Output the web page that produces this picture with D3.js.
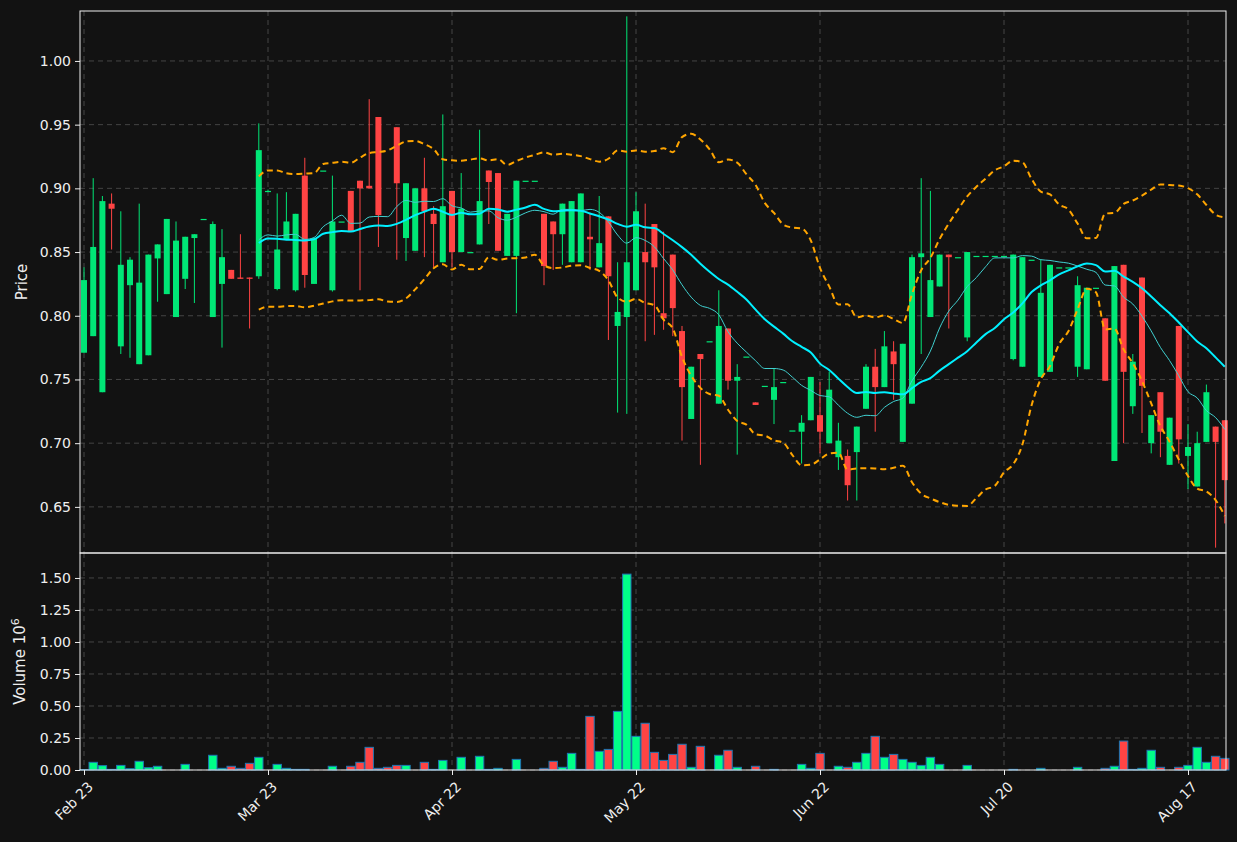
<!DOCTYPE html>
<html>
<head>
<meta charset="utf-8">
<script src="https://cdn.jsdelivr.net/npm/d3@7"></script>
<style>
  body { margin: 0; background: #121212; }
  svg { display: block; font-family: "DejaVu Sans", sans-serif; }
</style>
</head>
<body>
<div id="chart"></div>
<script>
// OHLC per trading day (null = no candle)
const opens = [0.771,0.784,0.740,0.888,0.776,0.824,0.762,0.769,0.845,0.817,
  0.799,0.829,0.861,0.876,0.799,0.825,0.836,0.830,0.830,0.831,
  0.898,0.821,0.860,0.820,0.910,0.825,0.914,0.820,0.874,0.898,
  0.906,0.902,0.956,null,0.948,0.861,0.851,0.900,0.880,0.842,
  0.898,0.850,0.850,0.856,0.914,0.912,0.847,0.847,0.906,0.906,
  0.880,0.874,0.864,0.842,0.842,0.862,0.838,0.878,0.792,0.799,
  0.820,0.850,0.872,0.802,0.848,0.788,0.719,0.770,0.780,0.731,
  0.790,0.749,0.768,0.732,0.745,0.734,0.748,0.710,0.709,0.718,
  0.722,0.700,0.689,0.690,0.693,0.727,0.760,0.744,0.772,0.701,
  0.731,0.846,0.799,0.823,0.848,0.846,0.783,0.847,0.847,0.847,
  0.847,0.766,0.760,0.844,0.752,0.756,0.838,0.838,0.760,0.758,
  0.822,0.798,0.686,0.840,0.729,0.830,0.700,0.740,0.683,0.792,
  0.690,0.666,0.701,0.713,0.718];
const highs = [0.838,0.908,0.894,0.896,0.882,0.846,0.888,0.848,0.856,0.876,
  0.874,0.862,0.864,0.876,0.874,0.868,0.836,0.864,0.830,0.951,
  0.899,0.896,0.897,0.880,0.924,0.861,0.914,0.910,0.874,0.898,
  0.906,0.970,0.956,null,0.948,0.904,0.900,0.924,0.886,0.958,
  0.898,0.912,0.850,0.946,0.914,0.912,0.880,0.906,0.906,0.906,
  0.880,0.874,0.888,0.890,0.896,0.880,0.894,0.878,0.842,1.035,
  0.897,0.888,0.872,0.866,0.848,0.792,0.760,0.770,0.780,0.820,
  0.790,0.762,0.768,0.732,0.745,0.759,0.748,0.710,0.722,0.752,
  0.748,0.756,0.716,0.695,0.713,0.762,0.774,0.788,0.780,0.778,
  0.848,0.908,0.898,0.848,0.848,0.846,0.850,0.847,0.847,0.847,
  0.847,0.848,0.846,0.844,0.844,0.840,0.838,0.838,0.831,0.822,
  0.822,0.798,0.839,0.840,0.770,0.830,0.722,0.740,0.720,0.792,
  0.715,0.709,0.746,0.713,0.718];
const lows = [0.771,0.784,0.740,0.852,0.770,0.767,0.762,0.769,0.811,0.817,
  0.799,0.821,0.810,0.876,0.799,0.775,0.829,0.829,0.790,0.829,
  0.897,0.820,0.860,0.819,0.822,0.825,0.914,0.819,0.874,0.866,
  0.820,0.900,0.854,null,0.844,0.843,0.851,0.846,0.838,0.842,
  0.838,0.850,0.850,0.856,0.872,0.851,0.847,0.802,0.906,0.906,
  0.824,0.836,0.840,0.842,0.842,0.836,0.838,0.781,0.724,0.723,
  0.820,0.780,0.785,0.789,0.784,0.702,0.719,0.683,0.780,0.731,
  0.742,0.691,0.768,0.730,0.745,0.715,0.748,0.710,0.684,0.718,
  0.692,0.700,0.679,0.655,0.655,0.727,0.709,0.744,0.734,0.701,
  0.731,0.770,0.799,0.823,0.790,0.846,0.780,0.847,0.847,0.847,
  0.847,0.765,0.760,0.844,0.752,0.756,0.838,0.838,0.752,0.758,
  0.822,0.749,0.686,0.700,0.723,0.708,0.692,0.689,0.683,0.684,
  0.664,0.666,0.701,0.618,0.637];
const closes = [0.828,0.854,0.890,0.884,0.840,0.844,0.826,0.848,0.856,0.876,
  0.859,0.862,0.864,0.876,0.872,0.846,0.829,0.829,0.829,0.930,
  0.898,0.852,0.874,0.880,0.832,0.861,0.914,0.874,0.874,0.866,
  0.900,0.900,0.879,null,0.904,0.904,0.900,0.882,0.872,0.886,
  0.850,0.884,0.850,0.890,0.905,0.851,0.880,0.906,0.906,0.906,
  0.839,0.864,0.888,0.890,0.896,0.860,0.857,0.831,0.803,0.842,
  0.882,0.842,0.838,0.798,0.806,0.744,0.760,0.766,0.780,0.792,
  0.749,0.752,0.768,0.730,0.745,0.744,0.748,0.710,0.716,0.752,
  0.709,0.742,0.702,0.667,0.713,0.760,0.744,0.776,0.762,0.778,
  0.846,0.849,0.828,0.848,0.846,0.846,0.850,0.847,0.847,0.847,
  0.847,0.848,0.846,0.844,0.818,0.840,0.838,0.838,0.824,0.822,
  0.822,0.749,0.839,0.756,0.764,0.745,0.722,0.709,0.720,0.703,
  0.697,0.700,0.740,0.701,0.671];
// volume in millions, and 1 = up colour / 0 = down colour
const volumes = [0.003,0.060,0.034,0.005,0.036,0.010,0.068,0.018,0.029,0,
  0,0.044,0,0,0.115,0.013,0.029,0.013,0.052,0.099,
  0,0.044,0.013,0.005,0.005,0,0,0.029,0,0.029,
  0.060,0.177,0.013,0.021,0.036,0.036,0,0.060,0.005,0.075,
  0,0.099,0,0.107,0.005,0.013,0,0.083,0,0,
  0.013,0.068,0.021,0.130,0.005,0.419,0.146,0.161,0.458,1.53,
  0.263,0.365,0.138,0.075,0.122,0.201,0.021,0.185,0,0.115,
  0.154,0.021,0,0.029,0,0.005,0,0,0.044,0.013,
  0.130,0,0.029,0.021,0.060,0.130,0.263,0.099,0.122,0.083,
  0.060,0.036,0.099,0.044,0,0,0.036,0,0,0,
  0,0.005,0,0,0.013,0,0,0,0.021,0,
  0,0.013,0.029,0.226,0.005,0.013,0.154,0.021,0,0.021,
  0.036,0.177,0.060,0.107,0.091];
const volUp = [1,1,1,1,1,1,1,1,1,1, 1,1,1,1,1,1,0,0,0,1, 1,1,1,1,1,1,1,1,1,0,
  0,0,0,0,0,1,1,0,0,1, 1,1,1,1,1,1,1,1,1,1, 0,0,1,1,1,0,1,0,1,1,
  1,0,0,0,0,0,1,0,1,1, 0,1,1,0,1,1,1,1,1,1, 0,1,1,0,1,1,0,1,0,1,
  1,1,1,1,1,1,1,1,1,1, 1,1,1,1,1,1,1,1,1,1, 0,0,1,0,1,1,1,0,1,0,
  1,1,1,0,0];
const tickIdx = [0, 20, 40, 60, 80, 100, 120];
const tickLabels = ["Feb 23", "Mar 23", "Apr 22", "May 22", "Jun 22", "Jul 20", "Aug 17"];
const priceTicks = [0.65, 0.70, 0.75, 0.80, 0.85, 0.90, 0.95, 1.00];
const volTicks = [0, 0.25, 0.5, 0.75, 1.0, 1.25, 1.5];

const W = 1237, H = 842;
const left = 80, right = 1226, pTop = 11, pBot = 553, vBot = 770;
const upCol = "#00e676", downCol = "#ff4444";

const svg = d3.select("#chart").append("svg").attr("width", W).attr("height", H);
svg.append("rect").attr("width", W).attr("height", H).attr("fill", "#121212");

const n = closes.length;
const x = d3.scaleLinear().domain([-0.435, 124.13]).range([left, right]);
const y = d3.scaleLinear().domain([0.6138, 1.0392]).range([pBot, pTop]);
const yv = d3.scaleLinear().domain([0, 1.695]).range([vBot, pBot]);

// grid
function grid(scale, ticks, y0, y1) {
  svg.append("g").selectAll("line").data(ticks).join("line")
    .attr("x1", left).attr("x2", right)
    .attr("y1", d => scale(d)).attr("y2", d => scale(d))
    .attr("stroke", "#444").attr("stroke-dasharray", "5,4");
  svg.append("g").selectAll("line").data(tickIdx).join("line")
    .attr("x1", d => x(d)).attr("x2", d => x(d))
    .attr("y1", y0).attr("y2", y1)
    .attr("stroke", "#444").attr("stroke-dasharray", "5,4");
}
grid(y, priceTicks, pTop, pBot);
grid(yv, volTicks, pBot, vBot);

// indicators computed from closes
const idx = d3.range(n);
function sma(k) {
  return idx.map(i => {
    if (i < 19) return null;
    const w = closes.slice(i - k + 1, i + 1).filter(v => v != null);
    return d3.mean(w);
  });
}
const ma20 = sma(20), ma10 = sma(10);
const sd20 = idx.map(i => i < 19 ? null : d3.deviation(closes.slice(i - 19, i + 1).filter(v => v != null)));
const line = d3.line().defined(d => d[1] != null).x(d => x(d[0])).y(d => y(d[1])).curve(d3.curveMonotoneX);

// candles
const cg = svg.append("g");
idx.forEach(i => {
  if (opens[i] == null) return;
  const c = closes[i] >= opens[i] ? upCol : downCol;
  cg.append("line").attr("x1", x(i)).attr("x2", x(i))
    .attr("y1", y(highs[i])).attr("y2", y(lows[i])).attr("stroke", c).attr("stroke-width", 1);
  const top = y(Math.max(opens[i], closes[i])), bot = y(Math.min(opens[i], closes[i]));
  cg.append("rect").attr("x", x(i) - 3).attr("width", 6)
    .attr("y", top).attr("height", Math.max(bot - top, 1.2)).attr("fill", c);
});

["upper", "lower"].forEach(side => {
  const sgn = side === "upper" ? 2 : -2;
  svg.append("path").attr("d", line(idx.map(i => [i, ma20[i] == null ? null : ma20[i] + sgn * sd20[i]])))
    .attr("fill", "none").attr("stroke", "#ffa500").attr("stroke-width", 2).attr("stroke-dasharray", "6,4");
});
svg.append("path").attr("d", line(idx.map(i => [i, ma10[i]])))
  .attr("fill", "none").attr("stroke", "#40d0d0").attr("stroke-width", 1);
svg.append("path").attr("d", line(idx.map(i => [i, ma20[i]])))
  .attr("fill", "none").attr("stroke", "#00f0ff").attr("stroke-width", 2);

// volume bars
svg.append("g").selectAll("rect").data(idx.filter(i => volumes[i] > 0)).join("rect")
  .attr("x", i => x(i) - 4.2).attr("width", 8.4)
  .attr("y", i => yv(volumes[i])).attr("height", i => vBot - yv(volumes[i]))
  .attr("fill", i => volUp[i] ? "#00ff88" : "#ff4444")
  .attr("stroke", "#1f77b4").attr("stroke-width", 1);

// frames
svg.append("rect").attr("x", left).attr("y", pTop).attr("width", right - left).attr("height", pBot - pTop)
  .attr("fill", "none").attr("stroke", "#eee");
svg.append("rect").attr("x", left).attr("y", pBot).attr("width", right - left).attr("height", vBot - pBot)
  .attr("fill", "none").attr("stroke", "#eee");

// axes
const axStyle = g => {
  g.select(".domain").remove();
  g.selectAll("line").attr("stroke", "#eee");
  g.selectAll("text").attr("fill", "#eee").style("font-size", "14px").style("font-family", "DejaVu Sans");
};
svg.append("g").attr("transform", `translate(${left},0)`)
  .call(d3.axisLeft(y).tickValues(priceTicks).tickFormat(d3.format(".2f")).tickSize(5).tickPadding(4)).call(axStyle);
svg.append("g").attr("transform", `translate(${left},0)`)
  .call(d3.axisLeft(yv).tickValues(volTicks).tickFormat(d3.format(".2f")).tickSize(5).tickPadding(4)).call(axStyle);
const xa = svg.append("g").attr("transform", `translate(0,${vBot})`)
  .call(d3.axisBottom(x).tickValues(tickIdx).tickFormat((d, k) => tickLabels[k]).tickSize(5)).call(axStyle);
xa.selectAll("text").attr("text-anchor", "end").attr("dy", 0)
  .attr("transform", "translate(4,12) rotate(-45)");

svg.append("text").attr("transform", `translate(27,${(pTop + pBot) / 2}) rotate(-90)`)
  .attr("text-anchor", "middle").attr("fill", "#eee").style("font-size", "15px").text("Price");
const vl = svg.append("text").attr("transform", `translate(25,${(pBot + vBot) / 2}) rotate(-90)`)
  .attr("text-anchor", "middle").attr("fill", "#eee").style("font-size", "15px");
vl.append("tspan").text("Volume  10");
vl.append("tspan").attr("dy", -6).style("font-size", "11px").text("6");
</script>
</body>
</html>
